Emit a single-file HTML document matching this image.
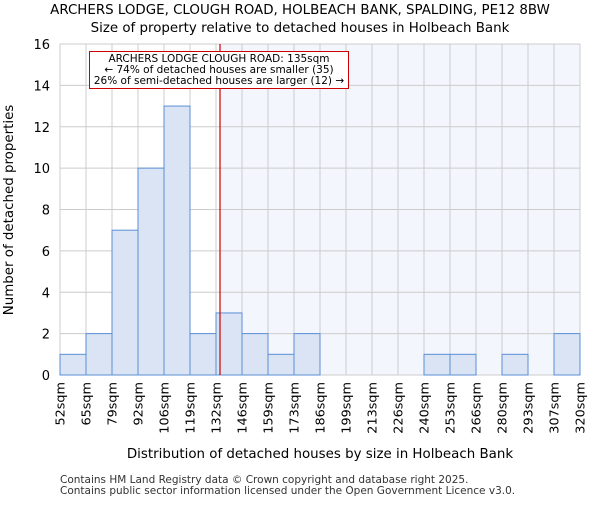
<!DOCTYPE html>
<html><head><meta charset="utf-8"><style>body{margin:0;background:#fff}svg{font-family:"DejaVu Sans","Liberation Sans",sans-serif}</style></head>
<body>
<svg id="chart" width="600" height="500" viewBox="0 0 600 500">
<text x="300" y="14" text-anchor="middle" font-size="13.4">ARCHERS LODGE, CLOUGH ROAD, HOLBEACH BANK, SPALDING, PE12 8BW</text>
<text x="300" y="32" text-anchor="middle" font-size="13.4">Size of property relative to detached houses in Holbeach Bank</text>
<rect x="220" y="44" width="360" height="331" fill="#f3f6fd"/>
<g id="grid"></g><g id="bars"></g><g id="xt"></g><g id="yt"></g>
<line x1="220" y1="44" x2="220" y2="375" stroke="#cc0000" stroke-width="1.2"/>
<rect x="89.5" y="51.5" width="259" height="37" fill="#fff" stroke="#cc0000"/>
<text font-size="10.5" text-anchor="middle"><tspan x="219" y="62">ARCHERS LODGE CLOUGH ROAD: 135sqm</tspan><tspan x="219" y="73">← 74% of detached houses are smaller (35)</tspan><tspan x="219" y="84">26% of semi-detached houses are larger (12) →</tspan></text>
<text x="320" y="458" text-anchor="middle" font-size="13.4">Distribution of detached houses by size in Holbeach Bank</text>
<text transform="translate(13,210) rotate(-90)" text-anchor="middle" font-size="13.4">Number of detached properties</text>
<text x="60" y="483" font-size="10.5" fill="#333">Contains HM Land Registry data © Crown copyright and database right 2025.</text>
<text x="60" y="494" font-size="10.5" fill="#333">Contains public sector information licensed under the Open Government Licence v3.0.</text>
</svg>
<script>
const edgeLabels=["52sqm","65sqm","79sqm","92sqm","106sqm","119sqm","132sqm","146sqm","159sqm","173sqm","186sqm","199sqm","213sqm","226sqm","240sqm","253sqm","266sqm","280sqm","293sqm","307sqm","320sqm"];
const counts=[1,2,7,10,13,2,3,2,1,2,0,0,0,0,1,1,0,1,0,2];
const yTicks=[0,2,4,6,8,10,12,14,16];
const NS="http://www.w3.org/2000/svg";
const x0=60,x1=580,y0=375,y1=44,yMax=16;
const bw=(x1-x0)/counts.length;
const xs=i=>x0+i*bw, ys=v=>y0-(v/yMax)*(y0-y1);
function mk(t,a,p){const e=document.createElementNS(NS,t);for(const k in a)e.setAttribute(k,a[k]);document.getElementById(p).appendChild(e);return e;}
edgeLabels.forEach((l,i)=>{
 const g=mk('line',{x1:xs(i),x2:xs(i),y1:y1,y2:y0,stroke:'#cccccc'},'grid');
 
 
 const t=mk('text',{transform:`translate(${xs(i)+4.5},382) rotate(-90)`,'text-anchor':'end','font-size':'12.8'},'xt');
 t.textContent=l;
 
 
});
yTicks.forEach(v=>{
 const g=mk('line',{x1:x0,x2:x1,y1:ys(v),y2:ys(v),stroke:'#cccccc'},'grid');
 
 
 const t=mk('text',{x:50,y:ys(v)+5,'text-anchor':'end','font-size':'13'},'yt');
 t.textContent=v;
 
 
});
counts.forEach((c,i)=>{
 if(c<=0)return;
 const r=mk('rect',{x:xs(i),y:ys(c),width:bw,height:y0-ys(c),fill:'#dae4f4',stroke:'#5b8fd6','stroke-width':1},'bars');
 
 
});
</script>
</body></html>
